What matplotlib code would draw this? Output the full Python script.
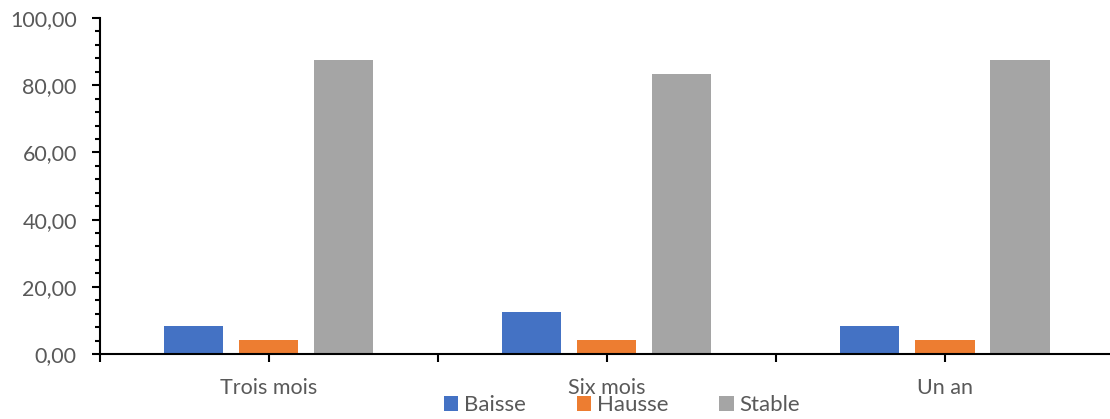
import matplotlib
matplotlib.use("Agg")
import matplotlib.pyplot as plt
import numpy as np
from matplotlib.ticker import FixedLocator, MultipleLocator, FuncFormatter

categories = ["Trois mois", "Six mois", "Un an"]
baisse = [8.33, 12.50, 8.33]
hausse = [4.17, 4.17, 4.17]
stable = [87.50, 83.33, 87.50]
series_names = ["Baisse", "Hausse", "Stable"]
colors = ["#4472C4", "#ED7D31", "#A5A5A5"]

plt.rcParams["font.family"] = ["Lato", "DejaVu Sans"]
text_color = "#595959"

fig = plt.figure(figsize=(11.10, 4.19), dpi=100)
ax = fig.add_axes([99.5 / 1110, 1 - 354 / 419, (1114 - 99.5) / 1110, (354 - 18) / 419])

x = np.arange(len(categories))
width = 0.175
step = 0.222
for i, (vals, name, c) in enumerate(zip([baisse, hausse, stable], series_names, colors)):
    ax.bar(x + (i - 1) * step, vals, width=width, color=c, label=name, zorder=2)

ax.set_xlim(-0.5, len(categories) - 0.5)
ax.set_ylim(0, 100)

ax.yaxis.set_major_locator(MultipleLocator(20))
ax.yaxis.set_minor_locator(MultipleLocator(4))
ax.yaxis.set_major_formatter(FuncFormatter(lambda v, p: f"{v:.2f}".replace(".", ",")))

ax.set_xticks(x)
ax.set_xticklabels(categories)
ax.xaxis.set_minor_locator(FixedLocator(np.arange(-0.5, len(categories), 1.0)))

for s in ["top", "right"]:
    ax.spines[s].set_visible(False)
for s in ["left", "bottom"]:
    ax.spines[s].set_color("black")
    ax.spines[s].set_linewidth(1.5)

ax.tick_params(axis="y", which="major", length=5.8, width=1.5, colors="black",
               labelcolor=text_color, labelsize=15.5, pad=10.5)
ax.tick_params(axis="y", which="minor", length=3.6, width=1.5, colors="black")
ax.tick_params(axis="x", which="major", length=5.8, width=1.5, colors="black",
               labelcolor=text_color, labelsize=15.5, pad=11.2)
ax.tick_params(axis="x", which="minor", length=5.8, width=1.5, colors="black")

leg = fig.legend(loc="center", bbox_to_anchor=(622 / 1110, 1 - 405 / 419), ncol=3, frameon=False,
                 fontsize=16, handlelength=0.65, handleheight=0.65, handletextpad=0.25,
                 columnspacing=2.3, labelcolor=text_color, borderpad=0)

fig.savefig("out.png", dpi=100)
